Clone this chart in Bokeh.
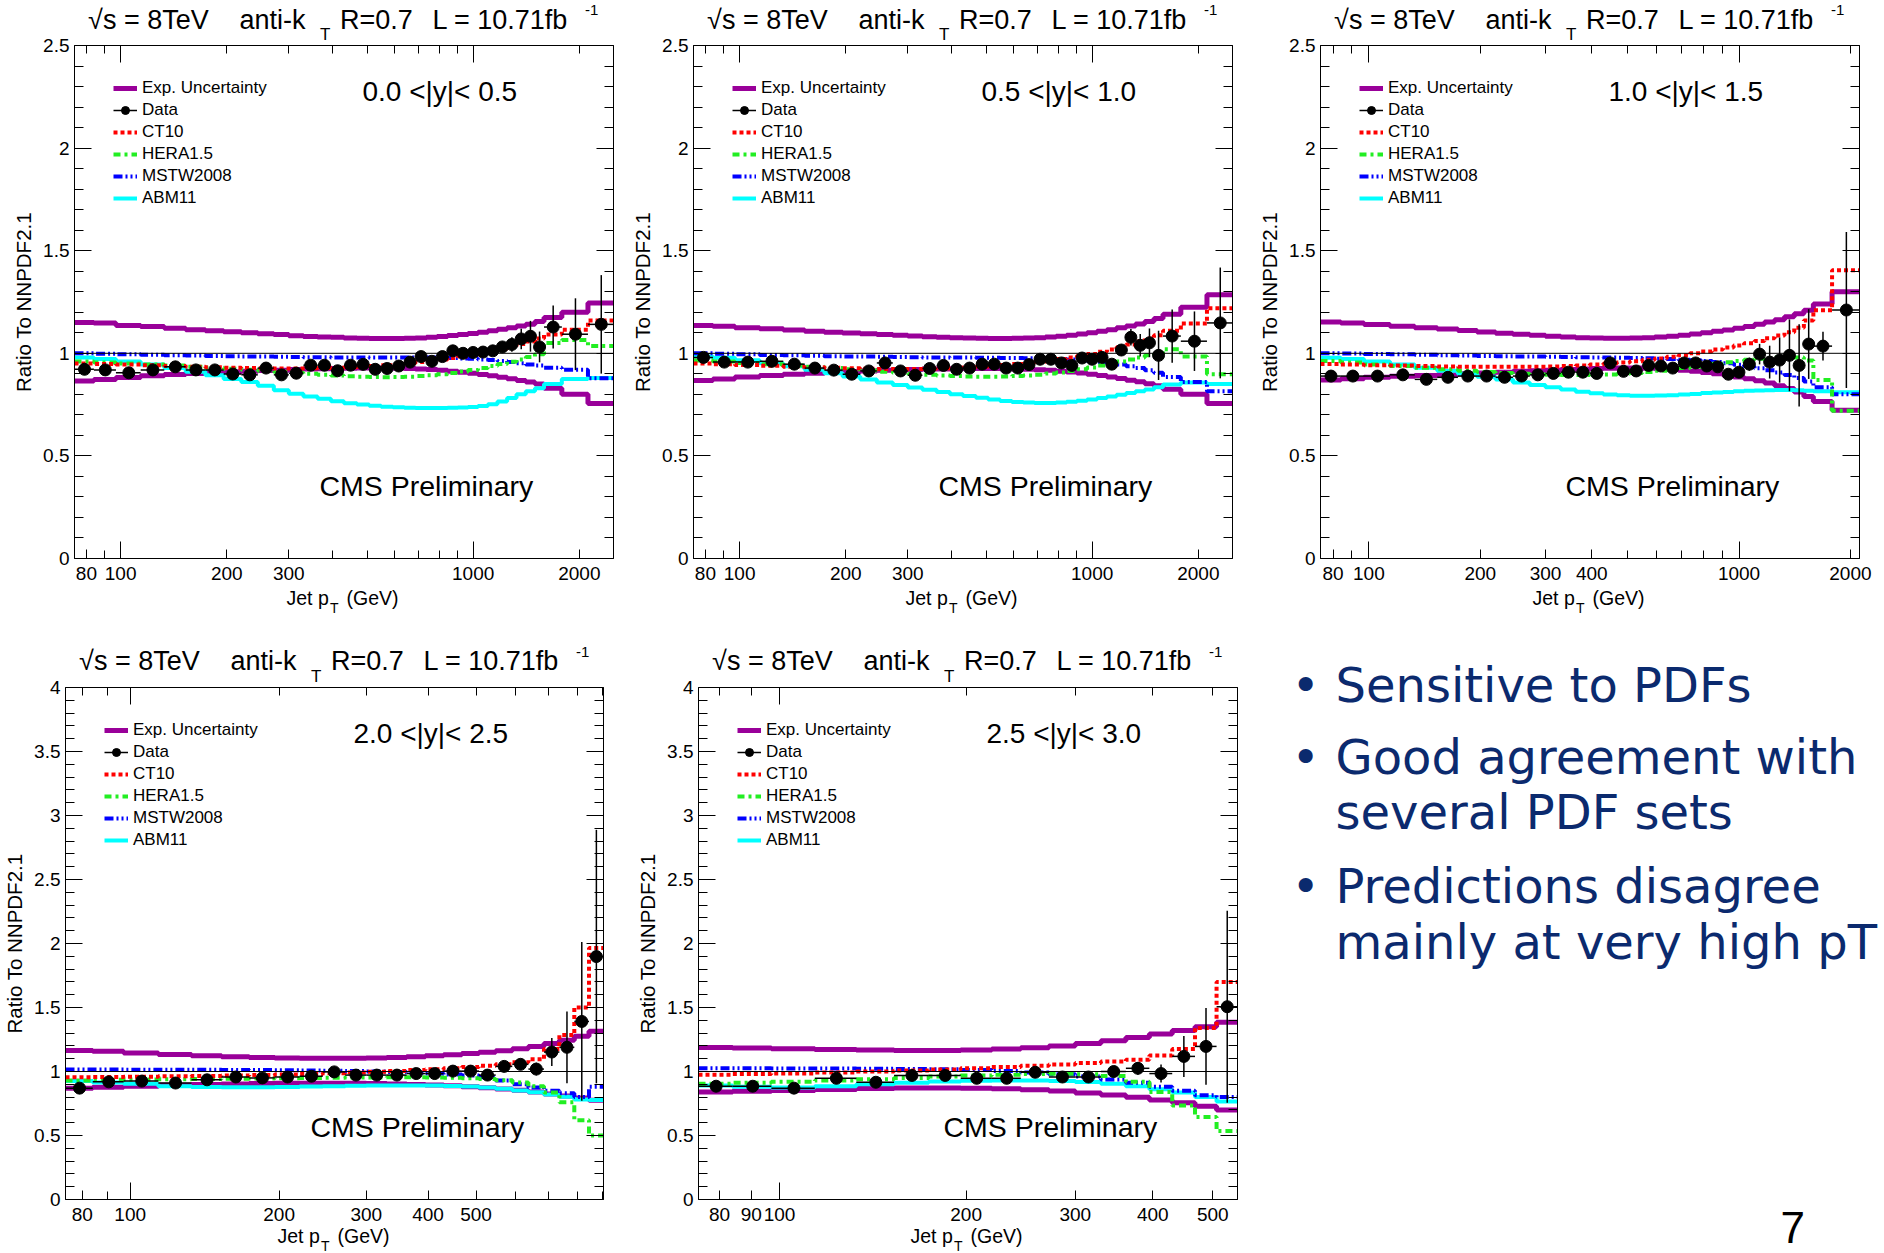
import math
from bokeh.plotting import figure
from bokeh.models import (Range1d, LogAxis, LinearAxis, FixedTicker, SingleIntervalTicker,
                          NumeralTickFormatter, Label, Legend, LegendItem, Grid)
from bokeh.layouts import row, column
from bokeh.embed import file_html
from bokeh.resources import INLINE

FONT = "Liberation Sans"
PURPLE = "#990099"
RED = "#ff0000"
GREEN = "#22ee22"
BLUE = "#0000ff"
CYAN = "#00ffff"
NAVY = "#0b2a6e"

# ---------------- data ----------------
EDGES = [74, 84, 97, 114, 133, 153, 174, 196, 220, 245, 272, 300, 330, 362, 395, 430, 468,
         507, 548, 592, 638, 686, 737, 790, 846, 905, 967, 1032, 1101, 1172, 1248, 1327,
         1410, 1497, 1588, 1784, 2116, 2500]
edges_00 = EDGES
edges_05 = EDGES
edges_10 = EDGES[:37]
edges_20 = EDGES[:26]
edges_25 = EDGES[:19]
REFERENCE_RATIO = 1.0

# |y| < 0.5
data_00 = [0.922, 0.919, 0.905, 0.919, 0.934, 0.919, 0.919, 0.899, 0.895, 0.928,
           0.895, 0.903, 0.942, 0.942, 0.915, 0.942, 0.946, 0.922, 0.926, 0.938,
           0.957, 0.984, 0.961, 0.984, 1.012, 1.000, 1.004, 1.006, 1.012, 1.031,
           1.043, 1.070, 1.083, 1.031, 1.128, 1.093, 1.141]
err_00 = [0.008, 0.007, 0.007, 0.006, 0.006, 0.006, 0.006, 0.006, 0.006, 0.006,
          0.006, 0.006, 0.006, 0.006, 0.006, 0.006, 0.006, 0.006, 0.006, 0.006,
          0.007, 0.007, 0.008, 0.008, 0.009, 0.010, 0.011, 0.012, 0.014, 0.018,
          0.035, 0.050, 0.075, 0.075, 0.105, 0.175, 0.240]
up_00 = [1.150, 1.148, 1.135, 1.130, 1.122, 1.115, 1.110, 1.105, 1.100, 1.095,
         1.092, 1.085, 1.082, 1.080, 1.078, 1.075, 1.073, 1.072, 1.072, 1.072,
         1.073, 1.075, 1.078, 1.082, 1.087, 1.092, 1.097, 1.103, 1.110, 1.117,
         1.125, 1.133, 1.142, 1.155, 1.175, 1.200, 1.245]
lo_00 = [0.865, 0.872, 0.882, 0.890, 0.897, 0.902, 0.906, 0.910, 0.913, 0.916,
         0.918, 0.921, 0.923, 0.925, 0.926, 0.927, 0.928, 0.928, 0.928, 0.927,
         0.926, 0.924, 0.921, 0.917, 0.913, 0.908, 0.903, 0.897, 0.890, 0.883,
         0.876, 0.868, 0.860, 0.850, 0.830, 0.800, 0.755]
ct_00 = [0.950, 0.948, 0.945, 0.942, 0.938, 0.935, 0.932, 0.930, 0.928, 0.927,
         0.926, 0.926, 0.927, 0.928, 0.930, 0.932, 0.935, 0.938, 0.942, 0.946,
         0.951, 0.957, 0.963, 0.970, 0.977, 0.985, 0.993, 1.002, 1.012, 1.022,
         1.033, 1.045, 1.058, 1.072, 1.092, 1.115, 1.160]
he_00 = [0.960, 0.955, 0.950, 0.945, 0.940, 0.935, 0.930, 0.925, 0.920, 0.915,
         0.910, 0.905, 0.900, 0.895, 0.892, 0.888, 0.886, 0.884, 0.883, 0.884,
         0.886, 0.889, 0.893, 0.898, 0.904, 0.911, 0.919, 0.928, 0.938, 0.948,
         0.959, 0.970, 0.982, 0.995, 1.050, 1.065, 1.035]
ms_00 = [1.000, 0.998, 0.995, 0.993, 0.991, 0.989, 0.987, 0.986, 0.985, 0.984,
         0.983, 0.982, 0.981, 0.981, 0.980, 0.980, 0.980, 0.979, 0.979, 0.979,
         0.979, 0.979, 0.979, 0.978, 0.977, 0.975, 0.973, 0.970, 0.967, 0.963,
         0.958, 0.952, 0.946, 0.940, 0.930, 0.920, 0.878]
ab_00 = [0.980, 0.972, 0.960, 0.945, 0.928, 0.910, 0.893, 0.875, 0.860, 0.842,
         0.820, 0.803, 0.790, 0.778, 0.766, 0.757, 0.750, 0.744, 0.740, 0.737,
         0.735, 0.734, 0.734, 0.734, 0.735, 0.736, 0.738, 0.743, 0.752, 0.765,
         0.782, 0.800, 0.815, 0.830, 0.850, 0.875, 0.880]

# 0.5 < |y| < 1.0
data_05 = [0.980, 0.957, 0.957, 0.961, 0.947, 0.928, 0.918, 0.898, 0.914, 0.953,
           0.914, 0.893, 0.926, 0.941, 0.922, 0.928, 0.947, 0.947, 0.928, 0.928,
           0.945, 0.971, 0.971, 0.953, 0.941, 0.977, 0.971, 0.980, 0.947, 1.016,
           1.078, 1.039, 1.051, 0.990, 1.084, 1.059, 1.148]
err_05 = [0.008, 0.007, 0.007, 0.006, 0.006, 0.006, 0.006, 0.006, 0.006, 0.006,
          0.006, 0.006, 0.006, 0.006, 0.006, 0.006, 0.006, 0.006, 0.006, 0.007,
          0.007, 0.007, 0.008, 0.008, 0.009, 0.010, 0.011, 0.013, 0.016, 0.020,
          0.040, 0.055, 0.070, 0.120, 0.130, 0.145, 0.270]
up_05 = [1.135, 1.132, 1.125, 1.120, 1.114, 1.108, 1.103, 1.099, 1.095, 1.092,
         1.088, 1.084, 1.081, 1.078, 1.076, 1.074, 1.073, 1.072, 1.072, 1.073,
         1.074, 1.076, 1.079, 1.083, 1.088, 1.094, 1.100, 1.107, 1.115, 1.124,
         1.133, 1.143, 1.155, 1.170, 1.190, 1.225, 1.285]
lo_05 = [0.868, 0.875, 0.884, 0.892, 0.898, 0.903, 0.907, 0.911, 0.914, 0.917,
         0.919, 0.921, 0.923, 0.924, 0.925, 0.926, 0.926, 0.926, 0.925, 0.924,
         0.922, 0.920, 0.917, 0.913, 0.909, 0.904, 0.898, 0.892, 0.885, 0.877,
         0.869, 0.861, 0.852, 0.842, 0.825, 0.800, 0.755]
ct_05 = [0.950, 0.947, 0.943, 0.939, 0.935, 0.932, 0.929, 0.927, 0.925, 0.924,
         0.924, 0.924, 0.925, 0.927, 0.929, 0.932, 0.935, 0.939, 0.943, 0.948,
         0.953, 0.959, 0.965, 0.972, 0.980, 0.988, 0.997, 1.007, 1.018, 1.030,
         1.043, 1.057, 1.072, 1.088, 1.110, 1.145, 1.220]
he_05 = [0.965, 0.960, 0.953, 0.947, 0.940, 0.934, 0.928, 0.922, 0.916, 0.910,
         0.905, 0.900, 0.896, 0.892, 0.889, 0.887, 0.886, 0.886, 0.887, 0.889,
         0.892, 0.896, 0.901, 0.907, 0.914, 0.922, 0.931, 0.940, 0.950, 0.960,
         0.970, 0.980, 0.990, 1.000, 1.020, 0.985, 0.898]
ms_05 = [1.000, 0.998, 0.995, 0.992, 0.990, 0.988, 0.986, 0.985, 0.984, 0.983,
         0.982, 0.981, 0.980, 0.980, 0.979, 0.979, 0.978, 0.978, 0.977, 0.977,
         0.976, 0.975, 0.974, 0.972, 0.970, 0.967, 0.963, 0.958, 0.952, 0.945,
         0.937, 0.928, 0.918, 0.905, 0.885, 0.860, 0.815]
ab_05 = [0.985, 0.978, 0.966, 0.952, 0.937, 0.920, 0.903, 0.887, 0.872, 0.858,
         0.845, 0.833, 0.822, 0.811, 0.801, 0.792, 0.783, 0.775, 0.768, 0.763,
         0.760, 0.758, 0.758, 0.760, 0.764, 0.769, 0.775, 0.782, 0.790, 0.798,
         0.806, 0.815, 0.824, 0.834, 0.848, 0.858, 0.850]

# 1.0 < |y| < 1.5
data_10 = [0.889, 0.889, 0.889, 0.895, 0.873, 0.883, 0.889, 0.889, 0.883, 0.889,
           0.895, 0.902, 0.908, 0.908, 0.902, 0.953, 0.912, 0.914, 0.941, 0.938,
           0.928, 0.953, 0.953, 0.938, 0.934, 0.898, 0.908, 0.947, 0.996, 0.957,
           0.967, 0.990, 0.941, 1.045, 1.035, 1.211]
err_10 = [0.008, 0.007, 0.007, 0.006, 0.006, 0.006, 0.006, 0.006, 0.006, 0.006,
          0.006, 0.006, 0.006, 0.007, 0.007, 0.008, 0.008, 0.009, 0.010, 0.011,
          0.012, 0.013, 0.015, 0.017, 0.020, 0.023, 0.027, 0.032, 0.050, 0.080,
          0.110, 0.175, 0.200, 0.170, 0.070, 0.380]
up_10 = [1.152, 1.148, 1.140, 1.132, 1.125, 1.118, 1.111, 1.104, 1.098, 1.093,
         1.088, 1.083, 1.079, 1.076, 1.074, 1.073, 1.073, 1.074, 1.076, 1.079,
         1.083, 1.088, 1.094, 1.100, 1.107, 1.114, 1.122, 1.131, 1.141, 1.152,
         1.164, 1.178, 1.193, 1.210, 1.240, 1.300]
lo_10 = [0.870, 0.876, 0.883, 0.888, 0.892, 0.896, 0.900, 0.904, 0.908, 0.912,
         0.915, 0.918, 0.921, 0.924, 0.926, 0.927, 0.928, 0.928, 0.927, 0.925,
         0.922, 0.918, 0.913, 0.907, 0.900, 0.893, 0.885, 0.876, 0.866, 0.855,
         0.842, 0.828, 0.812, 0.790, 0.765, 0.722]
ct_10 = [0.948, 0.945, 0.942, 0.940, 0.938, 0.936, 0.935, 0.934, 0.934, 0.934,
         0.935, 0.936, 0.938, 0.941, 0.945, 0.950, 0.955, 0.961, 0.968, 0.975,
         0.983, 0.991, 1.000, 1.009, 1.018, 1.028, 1.038, 1.049, 1.060, 1.073,
         1.087, 1.103, 1.125, 1.160, 1.210, 1.405]
he_10 = [0.962, 0.955, 0.946, 0.938, 0.930, 0.922, 0.915, 0.909, 0.904, 0.900,
         0.897, 0.895, 0.894, 0.894, 0.895, 0.897, 0.900, 0.904, 0.909, 0.915,
         0.921, 0.928, 0.935, 0.942, 0.949, 0.956, 0.962, 0.968, 0.973, 0.977,
         0.980, 0.982, 0.980, 0.965, 0.870, 0.720]
ms_10 = [1.000, 0.999, 0.997, 0.995, 0.993, 0.991, 0.989, 0.987, 0.986, 0.985,
         0.984, 0.983, 0.982, 0.981, 0.980, 0.979, 0.978, 0.977, 0.976, 0.974,
         0.972, 0.969, 0.966, 0.962, 0.957, 0.951, 0.944, 0.936, 0.927, 0.917,
         0.906, 0.894, 0.880, 0.862, 0.835, 0.800]
ab_10 = [0.978, 0.972, 0.960, 0.945, 0.930, 0.915, 0.900, 0.886, 0.872, 0.858,
         0.846, 0.834, 0.823, 0.813, 0.805, 0.799, 0.795, 0.793, 0.793, 0.794,
         0.796, 0.799, 0.802, 0.806, 0.809, 0.812, 0.815, 0.817, 0.819, 0.820,
         0.821, 0.821, 0.820, 0.818, 0.815, 0.810]

# 2.0 < |y| < 2.5
data_20 = [0.870, 0.919, 0.925, 0.910, 0.935, 0.957, 0.950, 0.957, 0.963, 0.997,
           0.972, 0.972, 0.972, 0.984, 0.984, 1.003, 1.003, 0.972, 1.040, 1.056,
           1.019, 1.152, 1.189, 1.391, 1.898]
err_20 = [0.010, 0.008, 0.008, 0.008, 0.008, 0.008, 0.008, 0.008, 0.009, 0.009,
          0.010, 0.010, 0.011, 0.012, 0.013, 0.015, 0.017, 0.020, 0.030, 0.040,
          0.050, 0.110, 0.280, 0.620, 0.990]
up_20 = [1.165, 1.158, 1.145, 1.132, 1.123, 1.115, 1.110, 1.106, 1.104, 1.103,
         1.104, 1.106, 1.110, 1.116, 1.123, 1.131, 1.140, 1.150, 1.162, 1.177,
         1.195, 1.218, 1.245, 1.275, 1.315]
lo_20 = [0.870, 0.876, 0.884, 0.892, 0.898, 0.903, 0.906, 0.908, 0.909, 0.909,
         0.908, 0.906, 0.903, 0.899, 0.894, 0.888, 0.881, 0.873, 0.864, 0.853,
         0.840, 0.825, 0.808, 0.792, 0.775]
ct_20 = [0.955, 0.957, 0.959, 0.962, 0.965, 0.968, 0.972, 0.976, 0.981, 0.986,
         0.992, 0.998, 1.004, 1.011, 1.018, 1.026, 1.035, 1.045, 1.057, 1.072,
         1.095, 1.175, 1.285, 1.500, 1.965]
he_20 = [0.930, 0.935, 0.938, 0.940, 0.942, 0.944, 0.946, 0.948, 0.950, 0.952,
         0.953, 0.954, 0.955, 0.955, 0.954, 0.952, 0.948, 0.942, 0.932, 0.915,
         0.885, 0.835, 0.760, 0.620, 0.500]
ms_20 = [1.015, 1.015, 1.014, 1.014, 1.013, 1.012, 1.011, 1.010, 1.008, 1.006,
         1.003, 1.000, 0.996, 0.991, 0.985, 0.977, 0.968, 0.955, 0.930, 0.900,
         0.875, 0.850, 0.830, 0.800, 0.880]
ab_20 = [0.925, 0.915, 0.905, 0.885, 0.878, 0.876, 0.877, 0.879, 0.882, 0.885,
         0.888, 0.890, 0.891, 0.891, 0.890, 0.887, 0.882, 0.875, 0.865, 0.852,
         0.837, 0.820, 0.802, 0.782, 0.778]

# 2.5 < |y| < 3.0
data_25 = [0.885, 0.885, 0.870, 0.947, 0.916, 0.969, 0.969, 0.947, 0.947, 0.994,
           0.957, 0.957, 1.000, 1.025, 0.984, 1.118, 1.196, 1.506]
err_25 = [0.012, 0.010, 0.010, 0.010, 0.010, 0.010, 0.011, 0.012, 0.013, 0.015,
          0.018, 0.022, 0.030, 0.050, 0.070, 0.160, 0.300, 0.750]
up_25 = [1.188, 1.183, 1.178, 1.172, 1.168, 1.165, 1.165, 1.168, 1.175, 1.186,
         1.200, 1.218, 1.240, 1.265, 1.292, 1.320, 1.350, 1.385]
lo_25 = [0.840, 0.845, 0.852, 0.860, 0.867, 0.871, 0.872, 0.870, 0.865, 0.857,
         0.847, 0.833, 0.817, 0.798, 0.778, 0.755, 0.728, 0.700]
ct_25 = [0.975, 0.980, 0.985, 0.992, 1.000, 1.008, 1.016, 1.025, 1.035, 1.045,
         1.055, 1.066, 1.078, 1.092, 1.125, 1.175, 1.340, 1.700]
he_25 = [0.905, 0.912, 0.920, 0.930, 0.940, 0.950, 0.960, 0.968, 0.975, 0.980,
         0.982, 0.978, 0.965, 0.920, 0.840, 0.735, 0.645, 0.535]
ms_25 = [1.025, 1.025, 1.024, 1.023, 1.022, 1.020, 1.017, 1.012, 1.004, 0.993,
         0.978, 0.960, 0.938, 0.912, 0.880, 0.850, 0.815, 0.800]
ab_25 = [0.890, 0.880, 0.875, 0.885, 0.900, 0.912, 0.922, 0.928, 0.930, 0.930,
         0.926, 0.918, 0.905, 0.885, 0.862, 0.835, 0.800, 0.765]

LEGEND_LABELS = ["Exp. Uncertainty", "Data", "CT10", "HERA1.5", "MSTW2008", "ABM11"]
RAP_LABELS = ["0.0 <|y|< 0.5", "0.5 <|y|< 1.0", "1.0 <|y|< 1.5", "2.0 <|y|< 2.5", "2.5 <|y|< 3.0"]

TICKS_A = [80, 100, 200, 300, 1000, 2000]
MINOR_A = [90, 400, 500, 600, 700, 800, 900]
TICKS_B = [80, 100, 200, 300, 400, 1000, 2000]
MINOR_B = [90, 500, 600, 700, 800, 900]
TICKS_C = [80, 100, 200, 300, 400, 500]
MINOR_C = [90, 600, 700, 800, 900]
TICKS_D = [80, 90, 100, 200, 300, 400, 500]
MINOR_D = []

BULLETS = [["Sensitive to PDFs"],
           ["Good agreement with", "several PDF sets"],
           ["Predictions disagree", "mainly at very high pT"]]
BULLET_BASELINES = [[701.5], [773, 828.5], [902, 958]]
PAGE_NUMBER = "7"


def build(edges, series, data, err, ymax, rap, ticks, minor, decades,
          W, H, L, R, T, B, title_base, xlab_base):
    """One panel; the figure frame covers the whole canvas and the plot box
    (data range) is drawn by four axes placed at fixed data locations."""
    up, lo, ct, he, ms, ab = series
    for s in series + [data, err]:
        assert len(s) == len(edges) - 1, (rap, len(s), len(edges))
    FW = W - L - R
    FH = H - T - B
    x0, x1 = edges[0], edges[-1]
    lx0 = math.log10(x0)
    lspan = math.log10(x1) - lx0
    xs = 10 ** (lx0 - L / FW * lspan)
    xe = 10 ** (lx0 + (FW + R) / FW * lspan)
    ys = -B / FH * ymax
    ye = ymax + T / FH * ymax

    p = figure(width=W, height=H, x_axis_type="log", x_range=Range1d(xs, xe),
               y_range=Range1d(ys, ye), x_axis_location=None, y_axis_location=None,
               output_backend="svg", toolbar_location=None, title=None, min_border=0)
    p.center = [c for c in p.center if not isinstance(c, Grid)]
    p.outline_line_color = None
    p.background_fill_color = "white"
    p.border_fill_color = "white"

    def ytick(ax):
        ax.ticker = SingleIntervalTicker(interval=0.5, num_minor_ticks=5)
        ax.major_tick_in = 17
        ax.major_tick_out = 0
        ax.minor_tick_in = 9
        ax.minor_tick_out = 0
        ax.axis_line_color = "black"
        ax.axis_line_width = 1
        ax.major_tick_line_color = "black"
        ax.minor_tick_line_color = "black"

    yl = LinearAxis(fixed_location=x0, bounds=(0, ymax))
    ytick(yl)
    yl.formatter = NumeralTickFormatter(format="0.[0]")
    yl.major_label_text_font = FONT
    yl.major_label_text_font_size = "19px"
    yl.major_label_text_color = "black"
    yl.major_label_standoff = 5
    yl.axis_label = "Ratio To NNPDF2.1"
    yl.axis_label_text_font = FONT
    yl.axis_label_text_font_size = "20.5px"
    yl.axis_label_text_font_style = "normal"
    yl.axis_label_text_color = "black"
    yl.axis_label_standoff = 5
    p.add_layout(yl, "left")

    yr = LinearAxis(fixed_location=x1, bounds=(0, ymax))
    ytick(yr)
    yr.major_label_text_font_size = "1px"
    yr.major_label_text_alpha = 0
    p.add_layout(yr, "right")

    xb = LogAxis(fixed_location=0, bounds=(x0, x1),
                 ticker=FixedTicker(ticks=ticks, minor_ticks=minor))
    xb.formatter = NumeralTickFormatter(format="0")
    xb.major_tick_in = 9
    xb.major_tick_out = 0
    xb.minor_tick_in = 8
    xb.minor_tick_out = 0
    xb.axis_line_color = "black"
    xb.major_label_text_font = FONT
    xb.major_label_text_font_size = "19px"
    xb.major_label_text_color = "black"
    xb.major_label_standoff = 8
    p.add_layout(xb, "below")

    # decade ticks are longer (ROOT style) on the bottom axis too
    xb2 = LogAxis(fixed_location=0, bounds=(x0, x1),
                  ticker=FixedTicker(ticks=decades, minor_ticks=[]),
                  major_tick_in=17, major_tick_out=0, minor_tick_in=0, minor_tick_out=0,
                  axis_line_color=None, major_label_text_font_size="1px",
                  major_label_text_alpha=0)
    p.add_layout(xb2, "below")

    top_minor = sorted([v for v in ticks + minor if v not in decades])
    xt = LogAxis(fixed_location=ymax, bounds=(x0, x1),
                 ticker=FixedTicker(ticks=decades, minor_ticks=top_minor),
                 major_tick_in=17, major_tick_out=0, minor_tick_in=8, minor_tick_out=0,
                 axis_line_color="black", major_label_text_font_size="1px",
                 major_label_text_alpha=0)
    p.add_layout(xt, "above")

    def st(vals):
        return vals + [vals[-1]]

    r_up = p.step(edges, st(up), mode="after", line_color=PURPLE, line_width=5)
    p.step(edges, st(lo), mode="after", line_color=PURPLE, line_width=5)
    r_ab = p.step(edges, st(ab), mode="after", line_color=CYAN, line_width=4)
    r_ms = p.step(edges, st(ms), mode="after", line_color=BLUE, line_width=4,
                  line_dash="9 3 2 3 2 3")
    r_he = p.step(edges, st(he), mode="after", line_color=GREEN, line_width=4,
                  line_dash="7 4 3 4")
    r_ct = p.step(edges, st(ct), mode="after", line_color=RED, line_width=4,
                  line_dash="4 3")

    # reference line at ratio = 1 across the plot box
    p.segment(x0=[x0], y0=[REFERENCE_RATIO], x1=[x1], y1=[REFERENCE_RATIO],
              line_color="black", line_width=1)

    lo_e = edges[:-1]
    hi_e = edges[1:]
    centers = [(a + b) / 2 for a, b in zip(lo_e, hi_e)]
    ylo = [d - e for d, e in zip(data, err)]
    yhi = [d + e for d, e in zip(data, err)]
    r_hx = p.segment(x0=lo_e, y0=data, x1=hi_e, y1=data, line_color="black", line_width=1.5)
    p.segment(x0=centers, y0=ylo, x1=centers, y1=yhi, line_color="black", line_width=1.5)
    r_pt = p.scatter(centers, data, marker="circle", size=12, color="black")

    legend = Legend(items=[
        LegendItem(label=LEGEND_LABELS[0], renderers=[r_up]),
        LegendItem(label=LEGEND_LABELS[1], renderers=[r_hx, r_pt]),
        LegendItem(label=LEGEND_LABELS[2], renderers=[r_ct]),
        LegendItem(label=LEGEND_LABELS[3], renderers=[r_he]),
        LegendItem(label=LEGEND_LABELS[4], renderers=[r_ms]),
        LegendItem(label=LEGEND_LABELS[5], renderers=[r_ab]),
    ], location=(L + 39, H - T - 162.5), label_text_font=FONT, label_text_font_size="17px",
        label_text_color="black", glyph_width=24, glyph_height=20, label_height=20,
        label_standoff=5, spacing=2, padding=0, margin=0, border_line_color=None,
        background_fill_alpha=0)
    p.add_layout(legend)

    # text placed in canvas pixels (from the figure's top-left), via the scales
    def lab(px, py_base, text, size):
        xv = 10 ** (lx0 + (px - L) / FW * lspan)
        yc = py_base - 0.35 * size
        yv = ymax - (yc - T) / FH * ymax
        p.add_layout(Label(x=xv, y=yv, text=text, text_font=FONT,
                           text_font_size=f"{size}px", text_baseline="middle",
                           text_align="left", text_color="black"))

    tb = T - title_base
    lab(L + 13.6, tb, "\u221as = 8TeV", 27)
    lab(L + 165, tb, "anti-k", 27)
    lab(L + 245.4, T - 5.2, "T", 17)
    lab(L + 265.5, tb, "R=0.7", 27)
    lab(L + 358, tb, "L = 10.71fb", 27)
    lab(L + 510.6, T - 30.4, "-1", 15)

    lab(L + 288, T + 55.8, rap, 28)
    lab(L + 245, T + FH - 62.5, "CMS Preliminary", 28.5)

    xb_ = T + FH + xlab_base
    lab(L + 212, xb_, "Jet p", 19.5)
    lab(L + 255.4, xb_ + 8, "T", 14)
    lab(L + 272, xb_, "(GeV)", 19.5)
    return p


p1 = build(edges_00, [up_00, lo_00, ct_00, he_00, ms_00, ab_00], data_00, err_00, 2.5,
           RAP_LABELS[0], TICKS_A, MINOR_A, [100, 1000], 625, 628, 74, 12, 45, 70, 16.5, 46)
p2 = build(edges_05, [up_05, lo_05, ct_05, he_05, ms_05, ab_05], data_05, err_05, 2.5,
           RAP_LABELS[1], TICKS_A, MINOR_A, [100, 1000], 620, 628, 68, 13, 45, 70, 16.5, 46)
p3 = build(edges_10, [up_10, lo_10, ct_10, he_10, ms_10, ab_10], data_10, err_10, 2.5,
           RAP_LABELS[2], TICKS_B, MINOR_B, [100, 1000], 639, 628, 75, 25, 45, 70, 16.5, 46)
p4 = build(edges_20, [up_20, lo_20, ct_20, he_20, ms_20, ab_20], data_20, err_20, 4.0,
           RAP_LABELS[3], TICKS_C, MINOR_C, [100], 636, 625, 65, 33, 59, 54, 17.5, 43.5)
p5 = build(edges_25, [up_25, lo_25, ct_25, he_25, ms_25, ab_25], data_25, err_25, 4.0,
           RAP_LABELS[4], TICKS_D, MINOR_D, [100], 654, 625, 62, 53, 59, 54, 17.5, 43.5)

# text panel (coordinates = page pixels, y downward)
pt = figure(width=594, height=625, x_range=Range1d(1290, 1884), y_range=Range1d(1253, 628),
            x_axis_type=None, y_axis_type=None, output_backend="svg",
            toolbar_location=None, title=None, min_border=0)
pt.outline_line_color = None
pt.background_fill_color = "white"
pt.border_fill_color = "white"


def tlabel(f, x, y, text, size, font, color):
    f.add_layout(Label(x=x, y=y, text=text, text_font=font, text_font_size=f"{size}px",
                       text_baseline="middle", text_align="left", text_color=color))


for lines, ys in zip(BULLETS, BULLET_BASELINES):
    tlabel(pt, 1291, ys[0] - 0.35 * 48, "\u2022", 48, "DejaVu Sans", NAVY)
    for t, yb in zip(lines, ys):
        tlabel(pt, 1335, yb - 0.35 * 48, t, 48, "DejaVu Sans", NAVY)
tlabel(pt, 1780, 1242 - 0.35 * 44, PAGE_NUMBER, 44, FONT, "black")

layout = column(row(p1, p2, p3), row(p4, p5, column(pt)))
open("out.html", "w").write(file_html(layout, INLINE))
